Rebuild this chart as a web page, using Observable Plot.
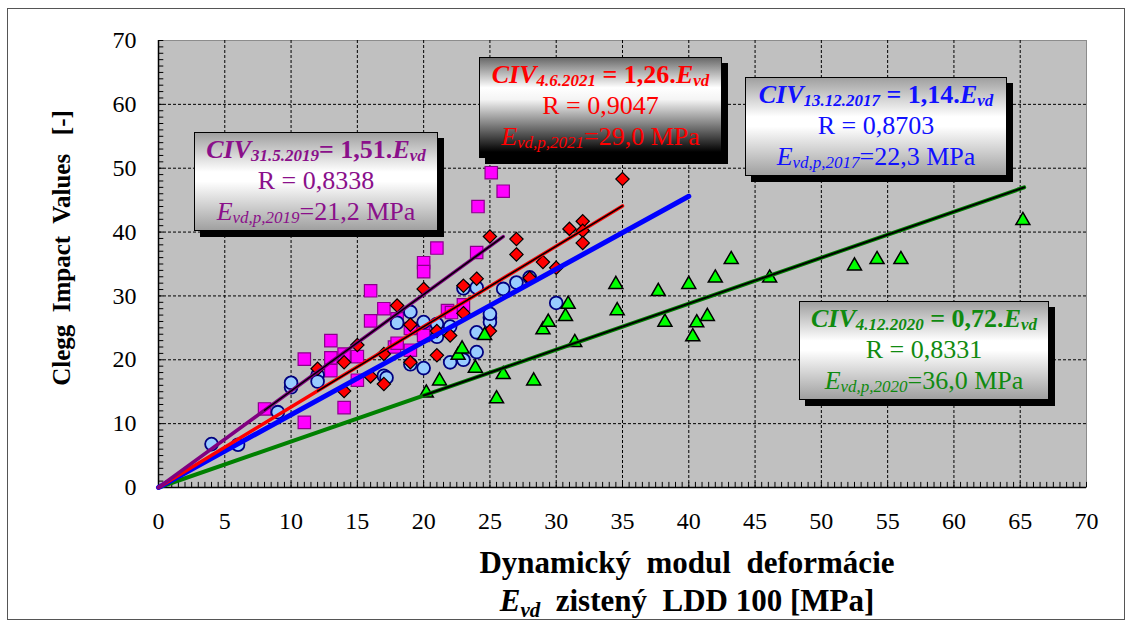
<!DOCTYPE html>
<html>
<head>
<meta charset="utf-8">
<script src="https://cdn.jsdelivr.net/npm/d3@7"></script>
<script src="https://cdn.jsdelivr.net/npm/@observablehq/plot@0.6"></script>
<style>
  body { margin: 0; background: #fff; }
  #wrap { position: relative; width: 1133px; height: 623px; font-family: "Liberation Serif", "Times New Roman", serif; }
  #chart { position: absolute; left: 0; top: 0; }
  .outer { position: absolute; left: 7px; top: 8px; width: 1118px; height: 612px; border: 1px solid #555; box-sizing: border-box; pointer-events: none; }
  .box { position: absolute; box-sizing: border-box; border: 1px solid #000; box-shadow: 6px 6px 0 #000;
         background: linear-gradient(to bottom, #a0a0a0 0%, #ffffff 40%, #ffffff 50%, #a0a0a0 100%);
         text-align: center; white-space: nowrap; padding-top: 1px; }
  .box.dark { background: linear-gradient(to bottom, #6a6a6a 0%, #ffffff 30%, #f4f4f4 42%, #000 95%); }
  .box div { font-size: 26px; line-height: 31px; height: 31px; }
  .box .l1 { font-weight: bold; }
  .box sub { font-size: 17px; vertical-align: -3px; line-height: 0; font-style: italic; }
  .ylab { position: absolute; left: 62px; top: 248px; transform: translate(-50%, -50%) rotate(-90deg); font-weight: bold; font-size: 25px; white-space: pre; }
  .xlab { position: absolute; left: 687px; transform: translateX(-50%); font-weight: bold; font-size: 31px; white-space: pre; line-height: 36px; }
  .xlab sub { font-size: 21px; vertical-align: -6px; line-height: 0; font-style: italic; }
</style>
</head>
<body>
<div id="wrap">
  <div id="chart"></div>
  <div class="outer"></div>
</div>
<script>
// ---------- data ----------
// 31.5.2019 (magenta squares)
const s2019x = [8, 11, 11, 13, 13, 13, 14, 14, 15, 15, 16, 16, 17, 18, 17.8, 18, 19, 19, 20, 20, 20, 20, 21, 21.8, 22.1, 23, 24, 24.1, 25.1, 26];
const s2019y = [12.3, 10.2, 20.1, 23, 20.3, 18.3, 12.5, 20.9, 20.5, 16.8, 26.1, 30.8, 28, 26.4, 22, 22.6, 24.9, 21.5, 24.6, 23.8, 35.2, 33.8, 37.5, 27.7, 27.4, 28.6, 36.8, 44, 49.3, 46.4];
// 13.12.2017 (light blue circles)
const s2017x = [4, 6, 9, 10, 12, 12, 17, 17.2, 18, 19, 19, 20, 20, 21, 21, 22, 22, 23, 23, 24, 24, 24, 25, 25, 25, 26, 27, 28, 30, 10];
const s2017y = [6.8, 6.7, 11.8, 15.7, 17.6, 16.6, 17.5, 17.2, 25.8, 27.5, 19.3, 18.7, 25.9, 25.6, 23.6, 25.2, 19.6, 20, 31.2, 24.3, 21.2, 31.3, 26.6, 25.9, 27.2, 31.1, 32.1, 32.9, 28.9, 16.4];
// 4.6.2021 (red diamonds)
const s2021x = [12, 14, 14, 15, 16, 17, 17, 18, 19, 19, 20, 21, 21, 22, 23, 23, 24, 25, 25, 27, 27, 28, 29, 30, 31, 32, 32, 32, 35];
const s2021y = [18.6, 15.1, 19.6, 22.3, 17.4, 16.2, 20.9, 28.5, 25.5, 19.6, 31.1, 20.7, 24.5, 23.8, 31.6, 27.3, 32.7, 24.5, 39.3, 38.9, 36.5, 32.8, 35.3, 34.4, 40.5, 41.7, 40.2, 38.3, 48.3];
// 4.12.2020 (green triangles)
const s2020x = [20.2, 21.2, 22.6, 22.9, 23.9, 24.6, 25.5, 26, 28.3, 29, 29.4, 30.7, 30.9, 31.4, 34.5, 34.6, 37.7, 38.2, 40, 40.3, 40.6, 41.4, 42, 43.2, 46.1, 52.5, 54.2, 56, 65.2];
const s2020y = [14.8, 16.7, 20.7, 21.7, 18.7, 23.8, 13.9, 17.7, 16.7, 24.7, 25.9, 26.8, 28.7, 22.7, 31.8, 27.7, 30.7, 25.9, 31.8, 23.6, 25.8, 26.8, 32.8, 35.7, 32.8, 34.7, 35.7, 35.7, 41.8];

// trend lines (from origin to end of each series) and the part over the data range
const trend2019 = {x: [0, 26], y: [0, 39.3]};
const trend2019data = {x: [8, 26], y: [12.1, 39.3]};
const trend2021 = {x: [0, 35], y: [0, 44.1]};
const trend2021data = {x: [12, 35], y: [15.1, 44.1]};
const trend2017 = {x: [0, 40], y: [0, 45.6]};
const trend2020 = {x: [0, 65.3], y: [0, 47.0]};
const trend2020data = {x: [20, 65.3], y: [14.4, 47.0]};

// axis ticks
const xTicks = [0, 5, 10, 15, 20, 25, 30, 35, 40, 45, 50, 55, 60, 65, 70];
const yTicks = [0, 10, 20, 30, 40, 50, 60, 70];
const xGrid = [5, 10, 15, 20, 25, 30, 35, 40, 45, 50, 55, 60, 65];
const yGrid = [10, 20, 30, 40, 50, 60];
const xMinor = d3.range(0, 70.01, 0.5);
const yMinor = d3.range(0, 70.01, 1);

// ---------- build tables ----------
const pts = (xs, ys) => xs.map((x, i) => ({x, y: ys[i]}));
const seg = (t) => t.x.map((x, i) => ({x, y: t.y[i]}));

const chart = Plot.plot({
  width: 1133,
  height: 623,
  marginLeft: 158,
  marginRight: 47,
  marginTop: 40,
  marginBottom: 136,
  style: {fontFamily: "'Liberation Serif', 'Times New Roman', serif", fontSize: "24px", background: "transparent", color: "#000"},
  x: {domain: [0, 70], axis: null},
  y: {domain: [0, 70], axis: null},
  marks: [
    Plot.frame({fill: "#c0c0c0", stroke: "#8c8c8c"}),
    Plot.ruleX(xGrid, {stroke: "#000", strokeWidth: 1, strokeDasharray: "3,2"}),
    Plot.ruleY(yGrid, {stroke: "#000", strokeWidth: 1, strokeDasharray: "3,2"}),
    Plot.ruleX(xMinor, {x: d => d, y1: 0, y2: 0.8, stroke: "#000", strokeWidth: 1}),
    Plot.ruleY(yMinor, {y: d => d, x1: 0, x2: 0.4, stroke: "#000", strokeWidth: 1}),
    Plot.ruleX([0], {stroke: "#000", strokeWidth: 1.5}),
    Plot.ruleY([0], {stroke: "#000", strokeWidth: 1.5}),
    Plot.dot(pts(s2019x, s2019y), {x: "x", y: "y", symbol: "square", r: 7, fill: "#ff00ff", stroke: "#8b008b", strokeWidth: 1.2}),
    Plot.dot(pts(s2017x, s2017y), {x: "x", y: "y", symbol: "circle", r: 6.4, fill: "#99ccff", stroke: "#000080", strokeWidth: 1.8}),
    Plot.dot(pts(s2021x, s2021y), {x: "x", y: "y", symbol: "diamond2", r: 6, fill: "#ff0000", stroke: "#000", strokeWidth: 1.2}),
    Plot.dot(pts(s2020x, s2020y), {x: "x", y: "y", symbol: "triangle", r: 5.2, fill: "#00ff00", stroke: "#000", strokeWidth: 1.5}),
    Plot.line(seg(trend2020), {x: "x", y: "y", stroke: "#008000", strokeWidth: 4}),
    Plot.line(seg(trend2020data), {x: "x", y: "y", stroke: "#000", strokeWidth: 2}),
    Plot.line(seg(trend2017), {x: "x", y: "y", stroke: "#0000ff", strokeWidth: 5}),
    Plot.line(seg(trend2021), {x: "x", y: "y", stroke: "#ff0000", strokeWidth: 3.5}),
    Plot.line(seg(trend2021data), {x: "x", y: "y", stroke: "#000", strokeWidth: 1.5}),
    Plot.line(seg(trend2019), {x: "x", y: "y", stroke: "#800080", strokeWidth: 3.5}),
    Plot.line(seg(trend2019data), {x: "x", y: "y", stroke: "#000", strokeWidth: 1.5}),
    Plot.axisX({ticks: xTicks, tickSize: 0, tickPadding: 24, tickFormat: d => String(d), label: null}),
    Plot.axisY({ticks: yTicks, tickSize: 0, tickPadding: 22, tickFormat: d => String(d), label: null})
  ]
});
document.getElementById("chart").appendChild(chart);

// ---------- annotations ----------
const boxes = [
  {left: 194, top: 132, w: 244, h: 99, color: "#8a108a", dark: false,
   l1: '<i>CIV</i><sub>31.5.2019</sub>= 1,51.<i>E</i><sub>vd</sub>', l2: 'R = 0,8338', l3: '<i>E</i><sub>vd,p,2019</sub>=21,2 MPa'},
  {left: 479, top: 57, w: 243, h: 101, color: "#ff0000", dark: true,
   l1: '<i>CIV</i><sub>4.6.2021</sub> = 1,26.<i>E</i><sub>vd</sub>', l2: 'R = 0,9047', l3: '<i>E</i><sub>vd,p,2021</sub>=29,0 MPa'},
  {left: 745, top: 77, w: 262, h: 99, color: "#1010ff", dark: false,
   l1: '<i>CIV</i><sub>13.12.2017</sub> = 1,14.<i>E</i><sub>vd</sub>', l2: 'R = 0,8703', l3: '<i>E</i><sub>vd,p,2017</sub>=22,3 MPa'},
  {left: 799, top: 301, w: 250, h: 99, color: "#108a10", dark: false,
   l1: '<i>CIV</i><sub>4.12.2020</sub> = 0,72.<i>E</i><sub>vd</sub>', l2: 'R = 0,8331', l3: '<i>E</i><sub>vd,p,2020</sub>=36,0 MPa'}
];
const wrap = document.getElementById("wrap");
for (const b of boxes) {
  const el = document.createElement("div");
  el.className = "box" + (b.dark ? " dark" : "");
  Object.assign(el.style, {left: b.left + "px", top: b.top + "px", width: b.w + "px", height: b.h + "px", color: b.color});
  el.innerHTML = `<div class="l1">${b.l1}</div><div class="l2">${b.l2}</div><div class="l3">${b.l3}</div>`;
  wrap.appendChild(el);
}
const yl = document.createElement("div");
yl.className = "ylab";
yl.textContent = "Clegg  Impact  Values   [-]";
wrap.appendChild(yl);
const xl1 = document.createElement("div");
xl1.className = "xlab"; xl1.style.top = "545px";
xl1.textContent = "Dynamický  modul  deformácie";
wrap.appendChild(xl1);
const xl2 = document.createElement("div");
xl2.className = "xlab"; xl2.style.top = "583px";
xl2.innerHTML = "<i>E</i><sub>vd</sub>  zistený  LDD 100 [MPa]";
wrap.appendChild(xl2);
</script>
</body>
</html>
